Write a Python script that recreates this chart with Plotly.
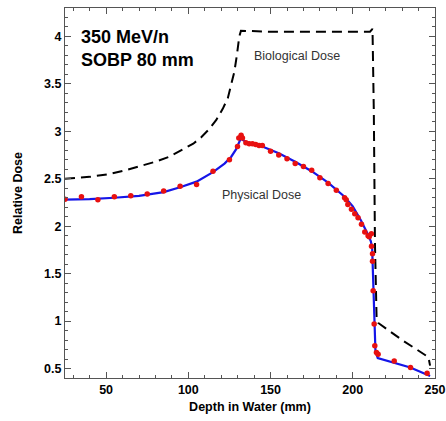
import plotly.graph_objects as go

# Measured physical dose (red dots)
meas_x = [25, 35, 45, 55, 65, 75, 85, 95, 105, 115, 125, 129.9, 130.7, 132.1, 132.9, 135, 137, 139, 141, 143, 145,
          150, 155, 160, 165, 170, 175, 180, 185, 190, 195, 196, 197, 199.2, 201.2, 203.2, 205.3, 207.3, 209.3,
          210, 211.3, 211.4, 212, 212, 212.4, 213, 213.4, 214.4, 215.4, 225.2, 235.1, 245.2]
meas_y = [2.285, 2.31, 2.28, 2.31, 2.32, 2.34, 2.37, 2.42, 2.44, 2.58, 2.70, 2.84, 2.93, 2.96, 2.93, 2.88, 2.87, 2.87, 2.86, 2.85, 2.85,
          2.79, 2.75, 2.71, 2.66, 2.63, 2.59, 2.51, 2.45, 2.38, 2.30, 2.28, 2.23, 2.18, 2.13, 2.09, 2.02, 1.94, 1.90,
          1.89, 1.92, 1.79, 1.71, 1.63, 1.32, 0.97, 0.74, 0.67, 0.65, 0.58, 0.51, 0.45]

# Calculated physical dose (blue line)
phys_x = [25, 40, 55, 70, 85, 95, 105, 115, 122, 126, 129, 131, 132, 133, 135, 145, 155, 165, 175, 185, 195, 200,
          205, 209, 211, 211.8, 212.3, 213, 213.8, 215.2, 225, 235, 247]
phys_y = [2.28, 2.285, 2.30, 2.32, 2.36, 2.41, 2.47, 2.57, 2.66, 2.73, 2.81, 2.89, 2.93, 2.91, 2.89, 2.84, 2.77, 2.68, 2.58, 2.46, 2.31, 2.21,
          2.06, 1.92, 1.84, 1.76, 1.45, 0.95, 0.68, 0.61, 0.56, 0.51, 0.42]

# Biological dose (black dashed)
bio_x = [25, 40, 52, 62, 72, 80, 88, 96, 103, 108, 113, 117, 121, 124, 126, 128, 129.5, 131, 132, 150, 180, 200, 210.5, 212,
         212.8, 213.5, 214.5, 215.5, 230, 246, 247]
bio_y = [2.50, 2.52, 2.55, 2.59, 2.64, 2.68, 2.73, 2.80, 2.87, 2.94, 3.03, 3.12, 3.24, 3.35, 3.48, 3.63, 3.80, 4.00, 4.06, 4.05, 4.05, 4.05, 4.05, 4.08,
         3.2, 1.8, 1.02, 0.98, 0.80, 0.62, 0.53]

x_ticks = [50, 100, 150, 200, 250]
y_ticks = [0.5, 1, 1.5, 2, 2.5, 3, 3.5, 4]
x_range = [25, 250]
y_range = [0.4, 4.3]

FONT = "Liberation Sans, Arial, Helvetica, sans-serif"
FRAME = "#555555"

fig = go.Figure()
fig.add_trace(go.Scatter(x=bio_x, y=bio_y, mode="lines",
                         line=dict(color="black", width=2, dash="10px,6px"), showlegend=False))
fig.add_trace(go.Scatter(x=phys_x, y=phys_y, mode="lines",
                         line=dict(color="#1515e8", width=2.2), showlegend=False))
fig.add_trace(go.Scatter(x=meas_x, y=meas_y, mode="markers",
                         marker=dict(color="#e81010", size=5.5), showlegend=False))
# invisible trace to hold the mirrored tick axes
fig.add_trace(go.Scatter(x=[x_range[0]], y=[y_range[0]], xaxis="x2", yaxis="y2", mode="markers",
                         marker=dict(opacity=0), showlegend=False, hoverinfo="skip"))

fig.add_annotation(x=0.038, y=0.955, xref="paper", yref="paper", xanchor="left", yanchor="top",
                   text="<b>350 MeV/n<br>SOBP 80 mm</b>", showarrow=False, align="left",
                   font=dict(family=FONT, size=18, color="black"))
fig.add_annotation(x=139, y=3.79, text="Biological Dose", showarrow=False, xanchor="left",
                   font=dict(family=FONT, size=12.5, color="#333333"))
fig.add_annotation(x=119.5, y=2.33, text="Physical Dose", showarrow=False, xanchor="left",
                   font=dict(family=FONT, size=12.5, color="#333333"))

axis_common = dict(showline=True, linecolor=FRAME, linewidth=1.2, automargin=False,
                   ticks="inside", ticklen=6, tickcolor=FRAME, showgrid=False, zeroline=False,
                   tickfont=dict(family=FONT, size=12.5, color="black", weight="bold"))
xminor = dict(ticks="inside", dtick=10, tick0=0, ticklen=3, tickcolor=FRAME)
yminor = dict(ticks="inside", dtick=0.1, tick0=0, ticklen=3, tickcolor=FRAME)

fig.update_layout(
    xaxis=dict(range=x_range, tickvals=x_ticks, minor=xminor,
               title=dict(text="<b>Depth in Water (mm)</b>", font=dict(family=FONT, size=12.5, color="black"),
                          standoff=6),
               **axis_common),
    yaxis=dict(range=y_range, tickvals=y_ticks, ticktext=[str(v) for v in y_ticks], minor=yminor,
               title=dict(text="<b>Relative Dose</b>", font=dict(family=FONT, size=12.5, color="black"),
                          standoff=18),
               **axis_common),
    xaxis2=dict(range=x_range, tickvals=x_ticks, minor=xminor, overlaying="x", side="top",
                showticklabels=False, **axis_common),
    yaxis2=dict(range=y_range, tickvals=y_ticks, minor=yminor, overlaying="y", side="right",
                showticklabels=False, **axis_common),
    width=446, height=421, margin=dict(l=65, r=11, t=8, b=43),
    plot_bgcolor="white", paper_bgcolor="white")

fig.write_html("out.html", config={"displayModeBar": False},
               post_script="document.body.style.margin='0';document.body.style.overflow='hidden';")
